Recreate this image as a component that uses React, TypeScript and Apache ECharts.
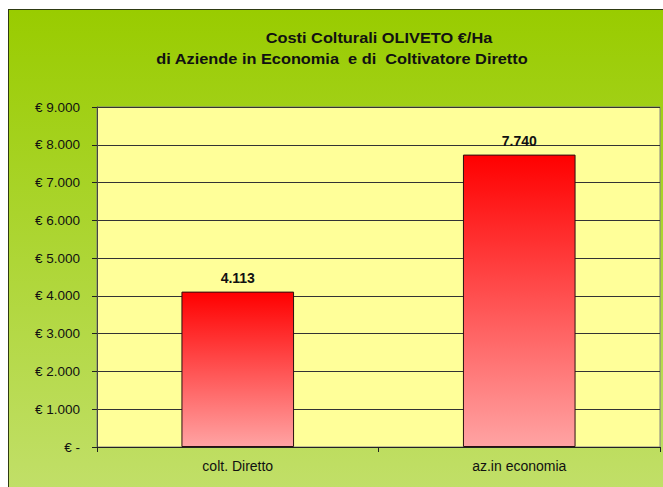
import React, { useEffect, useRef } from "react";
import * as echarts from "echarts";

const categories = ["colt. Diretto", "az.in economia"];
const costValues = [4113, 7740];
const titleLines = ["Costi Colturali OLIVETO €/Ha", "di Aziende in Economia  e di  Coltivatore Diretto"];
const yMin = 0;
const yMax = 9000;
const yStep = 1000;

const fontFamily = "'Liberation Sans', Arial, sans-serif";

function fmtIt(n: number): string {
  const s = Math.round(n).toString();
  return s.replace(/\B(?=(\d{3})+(?!\d))/g, ".");
}

export default function App() {
  const ref = useRef<HTMLDivElement>(null);
  useEffect(() => {
    if (!ref.current) return;
    const chart = echarts.init(ref.current, undefined, { renderer: "svg" });
    chart.setOption({
      animation: false,
      backgroundColor: "transparent",
      textStyle: { fontFamily },
      graphic: [
        {
          type: "text",
          x: 379,
          y: 38,
          scaleX: 1.09,
          style: {
            text: titleLines[0],
            fill: "#111",
            font: `bold 15px ${fontFamily}`,
            textAlign: "center",
            textVerticalAlign: "middle",
          },
        },
        {
          type: "text",
          x: 342,
          y: 59,
          scaleX: 1.09,
          style: {
            text: titleLines[1],
            fill: "#111",
            font: `bold 15px ${fontFamily}`,
            textAlign: "center",
            textVerticalAlign: "middle",
          },
        },
      ],
      grid: {
        left: 97,
        top: 107,
        right: 3,
        bottom: 40,
        show: true,
        backgroundColor: "#ffff99",
        borderColor: "#808080",
        borderWidth: 1,
      },
      xAxis: {
        type: "category",
        data: categories,
        axisLine: { show: true, lineStyle: { color: "#222", width: 1 } },
        axisTick: { show: true, length: 5, alignWithLabel: false, lineStyle: { color: "#222" } },
        axisLabel: { color: "#111", fontSize: 14, margin: 12, fontFamily },
        splitLine: { show: false },
      },
      yAxis: {
        type: "value",
        min: yMin,
        max: yMax,
        interval: yStep,
        axisLine: { show: true, lineStyle: { color: "#444", width: 1 } },
        axisTick: { show: true, length: 5, lineStyle: { color: "#222" } },
        axisLabel: {
          color: "#111",
          fontSize: 13.5,
          margin: 17,
          fontFamily,
          formatter: (v: number) => (v === 0 ? "€ -" : "€ " + fmtIt(v)),
        },
        splitLine: { show: true, lineStyle: { color: "#333", width: 1 } },
      },
      series: [
        {
          type: "bar",
          data: costValues,
          barWidth: "40%",
          itemStyle: {
            color: new echarts.graphic.LinearGradient(0, 0, 0, 1, [
              { offset: 0, color: "#ff0000" },
              { offset: 1, color: "#ffa3a3" },
            ]),
            borderColor: "#2a1010",
            borderWidth: 1,
          },
          label: {
            show: true,
            position: "top",
            distance: 7,
            color: "#111",
            fontWeight: "bold",
            fontSize: 14,
            fontFamily,
            formatter: (p: any) => fmtIt(p.value),
          },
        },
      ],
    });
    return () => chart.dispose();
  }, []);

  return (
    <div style={{ position: "fixed", left: 0, top: 0, width: 663, height: 487, background: "#fff", overflow: "hidden" }}>
      <div
        style={{
          position: "absolute",
          left: 8,
          top: 9,
          width: 700,
          height: 520,
          borderLeft: "1.5px solid #2e3a12",
          borderTop: "1.5px solid #2e3a12",
          background: "linear-gradient(to bottom, #99cc00 0px, #c1df68 478px)",
        }}
      />
      <div ref={ref} style={{ position: "absolute", left: 0, top: 0, width: 663, height: 487 }} />
    </div>
  );
}
